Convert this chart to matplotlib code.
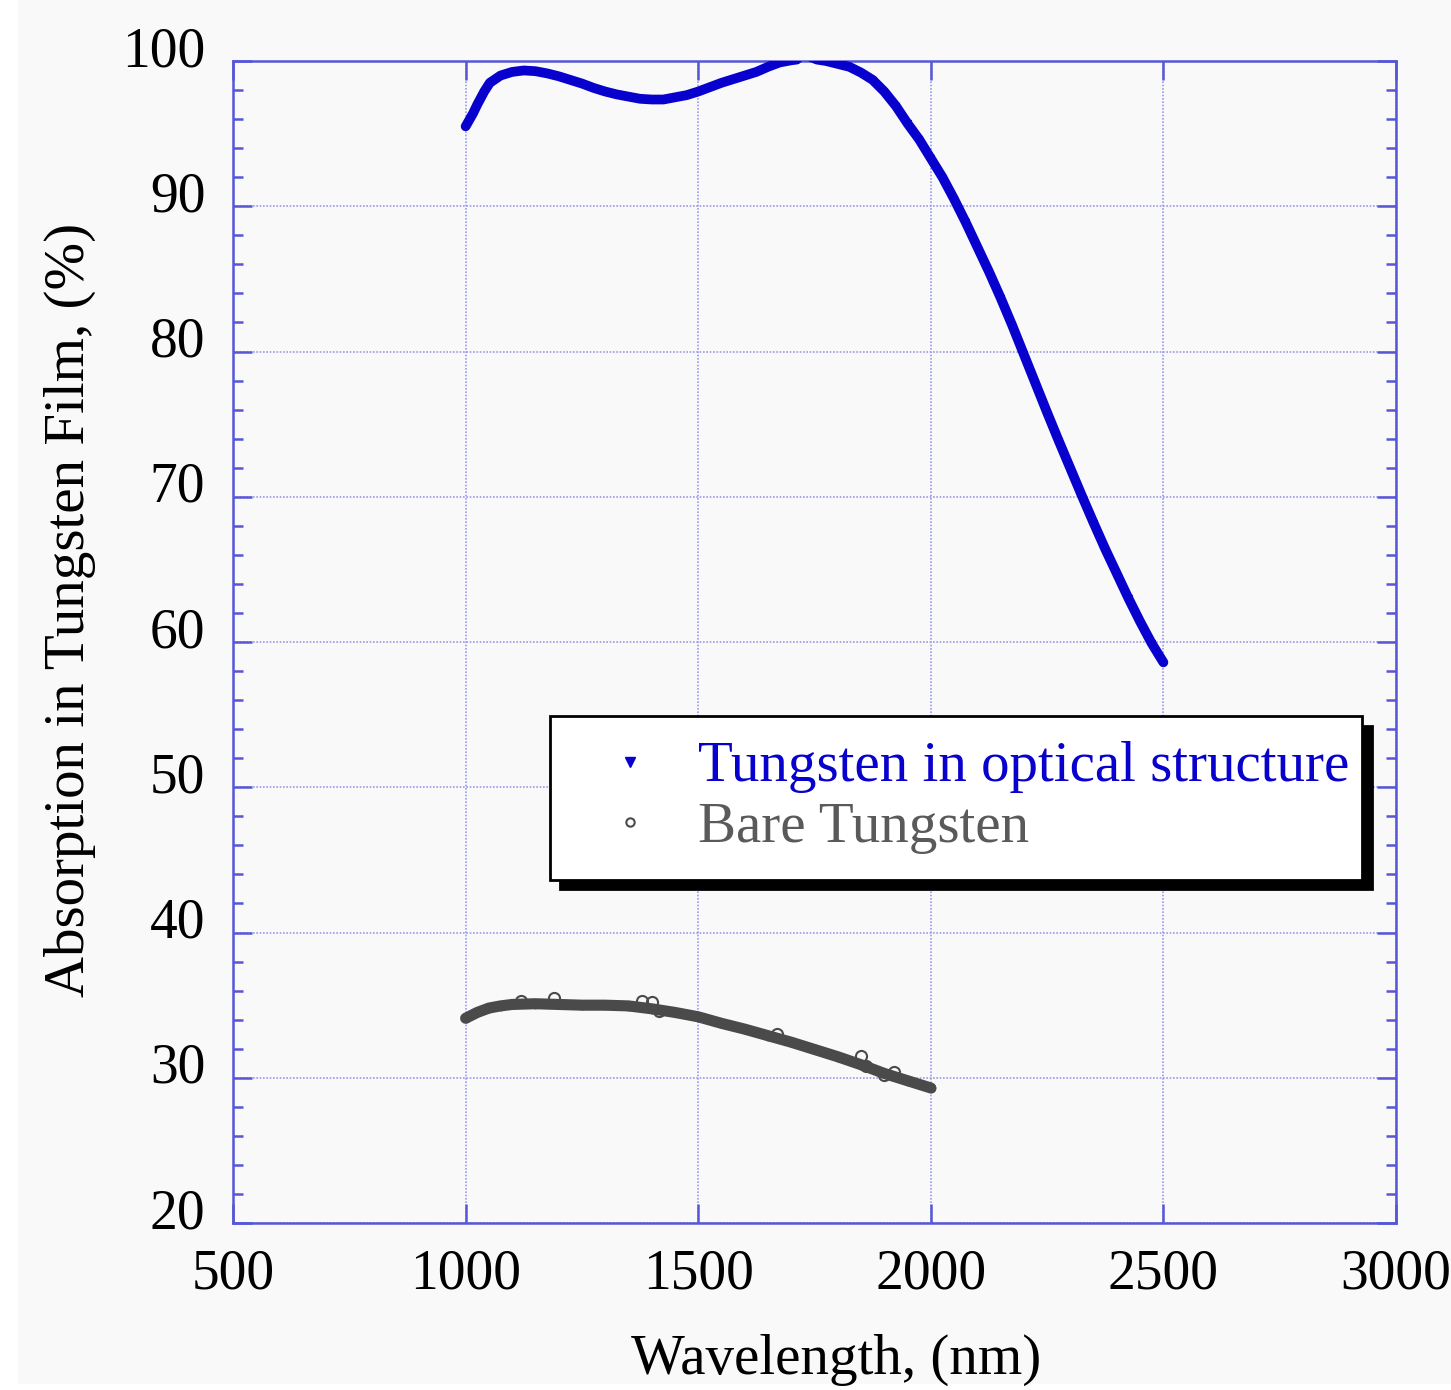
import numpy as np
import matplotlib
matplotlib.use("Agg")
import matplotlib.pyplot as plt
import matplotlib.transforms as mtransforms
from matplotlib.lines import Line2D
from matplotlib.patches import Rectangle

# values
wl_coated = [1000, 1016, 1025, 1040, 1052, 1075, 1100, 1125, 1150, 1175, 1200,
             1225, 1250, 1275, 1300, 1325, 1350, 1375, 1400, 1425, 1450, 1475,
             1500, 1525, 1550, 1575, 1600, 1625, 1650, 1675, 1700, 1712, 1725,
             1740, 1755, 1775, 1800, 1825, 1850, 1875, 1900, 1925, 1950, 1975,
             2000, 2025, 2050, 2075, 2100, 2125, 2150, 2175, 2200, 2225, 2250,
             2275, 2300, 2325, 2350, 2375, 2400, 2425, 2450, 2475, 2500]
abs_coated = [95.5, 96.4, 97.0, 97.9, 98.5, 99.0, 99.25, 99.35, 99.3, 99.15, 98.95,
              98.7, 98.45, 98.15, 97.9, 97.7, 97.55, 97.4, 97.35, 97.35, 97.5, 97.65,
              97.9, 98.2, 98.5, 98.75, 99.0, 99.25, 99.6, 99.9, 100.05, 100.1, 100.6,
              100.3, 100.1, 100.0, 99.8, 99.6, 99.2, 98.7, 97.9, 96.9, 95.7, 94.6,
              93.3, 92.0, 90.5, 88.9, 87.2, 85.5, 83.7, 81.8, 79.8, 77.8, 75.8,
              73.85, 71.95, 70.05, 68.2, 66.4, 64.7, 63.0, 61.4, 59.9, 58.6]

wl_bare = [1000, 1025, 1050, 1075, 1100, 1150, 1200, 1250, 1300, 1350, 1400,
           1450, 1500, 1550, 1600, 1650, 1700, 1750, 1800, 1850, 1900, 1950, 2000]
abs_bare = [34.1, 34.5, 34.8, 34.95, 35.05, 35.1, 35.05, 35.0, 35.0, 34.95, 34.75,
            34.5, 34.2, 33.75, 33.35, 32.9, 32.45, 31.95, 31.45, 30.9, 30.3, 29.8, 29.3]

# scattered outlier points of the bare film
wl_bare_out = [1120, 1190, 1380, 1400, 1415, 1670, 1850, 1860, 1900, 1920]
abs_bare_out = [35.3, 35.5, 35.3, 35.2, 34.6, 33.0, 31.5, 30.8, 30.2, 30.4]

labels = ["Tungsten in optical structure", "Bare Tungsten"]
x_ticks = [500, 1000, 1500, 2000, 2500, 3000]
y_ticks = [20, 30, 40, 50, 60, 70, 80, 90, 100]

blue = "#0800cc"
gray = "#4a4a4a"
axis_col = "#5656d6"
grid_col = "#9a9aee"
bg = "#f9f9fa"

plt.rcParams["font.family"] = ["Liberation Serif", "DejaVu Serif"]

fig = plt.figure(figsize=(14.51, 13.90), dpi=100, facecolor=bg)
# thin white margin on the left and bottom of the original screenshot
fig.patches.append(Rectangle((0, 0), 17 / 1451, 1, transform=fig.transFigure,
                             color="white", zorder=-1))
fig.patches.append(Rectangle((0, 0), 1, 6 / 1390, transform=fig.transFigure,
                             color="white", zorder=-1))

ax = fig.add_axes([0.1606, 0.1201, 0.8015, 0.8360])
ax.set_facecolor(bg)

ax.plot(wl_coated, abs_coated, color=blue, lw=7, solid_capstyle="round",
        solid_joinstyle="round", marker="v", ms=5, zorder=3)
ax.plot(wl_bare, abs_bare, color=gray, lw=8, solid_capstyle="round",
        solid_joinstyle="round", marker="o", ms=6, mfc="none", zorder=3)
ax.plot(wl_bare_out, abs_bare_out, ls="none", marker="o", ms=8, mfc="none",
        mec=gray, mew=1.5, zorder=3)

ax.set_xlim(500, 3000)
ax.set_ylim(20, 100)
ax.set_xticks(x_ticks)
ax.set_yticks(y_ticks)
ax.set_yticks(np.arange(20, 101, 2), minor=True)
ax.grid(True, which="major", color=grid_col, ls=(0, (1, 1)), lw=1.2)

for s in ax.spines.values():
    s.set_color(axis_col)
    s.set_linewidth(1.8)

ax.tick_params(which="both", direction="in", top=True, right=True,
               color=axis_col, width=1.8, labelsize=40)
ax.tick_params(which="major", length=14)
ax.tick_params(which="minor", length=7)
ax.tick_params(axis="x", which="minor", bottom=False, top=False)
ax.tick_params(axis="x", pad=18)
ax.tick_params(axis="y", pad=20)

# y labels sit a little above their ticks in the original
offset = mtransforms.ScaledTranslation(0, 15 / 100, fig.dpi_scale_trans)
for lab in ax.get_yticklabels():
    lab.set_transform(lab.get_transform() + offset)

ax.set_xlabel("Wavelength, (nm)", fontsize=41)
ax.set_ylabel("Absorption in Tungsten Film, (%)", fontsize=41)
ax.xaxis.set_label_coords(0.5185, -0.095)
ax.yaxis.set_label_coords(-0.118, 0.528)

handles = [Line2D([], [], ls="none", marker="v", ms=7, color=blue),
           Line2D([], [], ls="none", marker="o", ms=6, mfc="none", mec=gray, mew=1.5)]
leg = ax.legend(handles, labels, loc="upper left",
                bbox_to_anchor=(0.2726, 0.299, 0.698, 0.1375), mode="expand",
                borderaxespad=0, fontsize=41, frameon=True, fancybox=False,
                borderpad=0.45, handlelength=1.9, handletextpad=0.25,
                labelspacing=0.15, labelcolor=[blue, "#5a5a5a"],
                shadow={"ox": 7, "oy": -7, "color": "black", "alpha": 1})
leg.get_frame().set_edgecolor("black")
leg.get_frame().set_linewidth(2)
leg.get_frame().set_facecolor("white")

fig.savefig("out.png", dpi=100, facecolor=bg)
